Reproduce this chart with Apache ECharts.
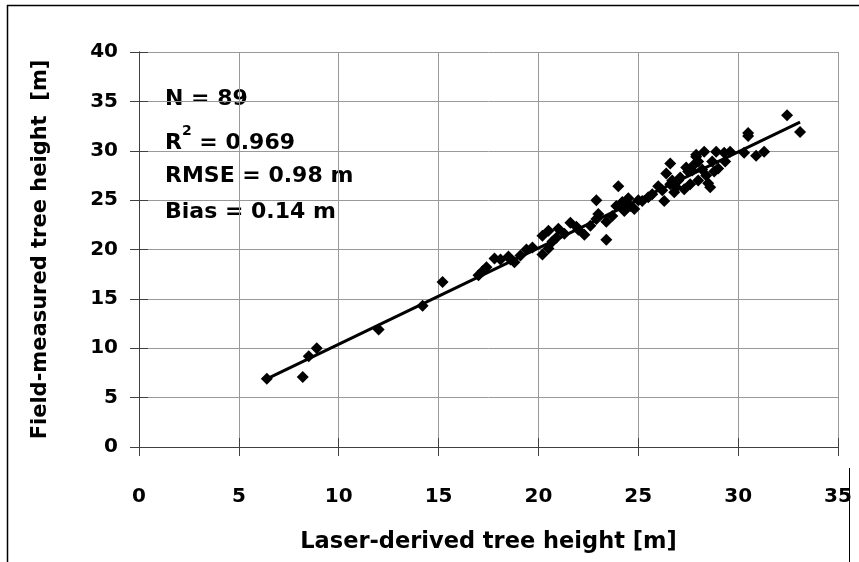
<!DOCTYPE html>
<html>
<head>
<meta charset="utf-8">
<script src="https://cdn.jsdelivr.net/npm/echarts@6/dist/echarts.min.js"></script>
<style>
html,body{margin:0;padding:0;background:#fff;}
#chart{width:859px;height:562px;}
</style>
</head>
<body>
<div id="chart"></div>
<script>
// Laser-derived tree height [m]
const laserHeight = [6.4, 8.2, 8.5, 8.9, 12.0, 14.2, 15.2, 17.0, 17.2, 17.4, 17.8, 18.5, 18.8, 19.1, 19.4, 20.2, 20.2, 20.5, 20.7, 20.5, 21.0, 21.3, 21.6, 22.3, 22.6, 22.9, 22.9, 23.4, 23.4, 23.7, 23.9, 24.0, 24.2, 24.3, 24.6, 24.8, 25.2, 25.7, 26.0, 26.3, 26.4, 26.6, 26.7, 26.9, 27.1, 27.3, 27.5, 27.7, 27.9, 28.0, 28.0, 28.2, 28.3, 28.4, 28.5, 28.6, 28.7, 28.8, 28.9, 29.0, 29.35, 29.3, 29.6, 30.3, 30.5, 30.5, 30.9, 31.3, 32.45, 33.1, 27.9, 27.0, 26.2, 25.5, 21.9, 19.7, 18.1, 24.4, 26.6, 27.4, 25.0, 23.0, 20.9, 22.0, 27.8, 26.8, 24.5, 18.6, 27.6];
// Field-measured tree height [m]
const fieldHeight = [6.9, 7.1, 9.2, 10.0, 11.9, 14.3, 16.7, 17.4, 17.8, 18.2, 19.1, 19.3, 18.7, 19.4, 20.0, 19.5, 21.4, 21.9, 20.8, 20.1, 22.1, 21.6, 22.7, 21.5, 22.4, 25.0, 23.1, 21.0, 22.8, 23.4, 24.4, 26.4, 24.8, 23.9, 24.4, 24.1, 24.9, 25.6, 26.4, 24.9, 27.7, 28.7, 27.0, 26.3, 27.3, 26.1, 27.9, 28.0, 29.4, 27.0, 28.9, 28.1, 29.9, 27.5, 26.7, 26.3, 28.9, 27.9, 29.9, 28.2, 28.9, 29.8, 29.9, 29.8, 31.8, 31.5, 29.5, 29.9, 33.6, 31.9, 29.6, 27.0, 26.0, 25.3, 22.3, 20.2, 19.0, 24.6, 26.6, 28.3, 25.0, 23.6, 21.2, 22.0, 28.6, 25.8, 25.2, 19.0, 26.6];
// Regression line end points
const fitX = [6.4, 33.1];
const fitY = [6.9, 32.9];
// Tick values
const xTicks = [0, 5, 10, 15, 20, 25, 30, 35];
const yTicks = [0, 5, 10, 15, 20, 25, 30, 35, 40];
const statsText = ['N = 89', '0.969', 'RMSE = 0.98 m', 'Bias = 0.14 m'];

const FONT = '"DejaVu Sans", sans-serif';
const points = laserHeight.map((x, i) => [x, fieldHeight[i]]);
const fitLine = fitX.map((x, i) => [x, fitY[i]]);

const chart = echarts.init(document.getElementById('chart'), null, {renderer: 'canvas'});
const axisCommon = {
  type: 'value',
  interval: 5,
  axisLine: {show: true, lineStyle: {color: '#404040', width: 1}},
};
chart.setOption({
  animation: false,
  backgroundColor: '#ffffff',
  grid: {left: 139, right: 21, top: 52, bottom: 115, containLabel: false},
  xAxis: [
    Object.assign({}, axisCommon, {
      min: xTicks[0], max: xTicks[xTicks.length - 1],
      name: 'Laser-derived tree height [m]',
      nameLocation: 'middle', nameGap: 84,
      nameTextStyle: {fontFamily: FONT, fontWeight: 'bold', fontSize: 22.5, color: '#000'},
      axisTick: {show: true, inside: false, length: 9, lineStyle: {color: '#404040'}},
      axisLabel: {fontFamily: FONT, fontWeight: 'bold', fontSize: 20, color: '#000', margin: 40},
      splitLine: {show: true, lineStyle: {color: '#999999', width: 1}}
    }),
    Object.assign({}, axisCommon, {
      min: xTicks[0], max: xTicks[xTicks.length - 1], position: 'bottom',
      axisTick: {show: true, inside: true, length: 9, lineStyle: {color: '#404040'}},
      axisLabel: {show: false}, splitLine: {show: false}
    })
  ],
  yAxis: [
    Object.assign({}, axisCommon, {
      min: yTicks[0], max: yTicks[yTicks.length - 1],
      name: 'Field-measured tree height  [m]',
      nameLocation: 'middle', nameGap: 88,
      nameTextStyle: {fontFamily: FONT, fontWeight: 'bold', fontSize: 21, color: '#000'},
      axisTick: {show: true, inside: false, length: 9, lineStyle: {color: '#404040'}},
      axisLabel: {fontFamily: FONT, fontWeight: 'bold', fontSize: 20, color: '#000', margin: 21},
      splitLine: {show: true, lineStyle: {color: '#999999', width: 1}}
    }),
    Object.assign({}, axisCommon, {
      min: yTicks[0], max: yTicks[yTicks.length - 1], position: 'left',
      axisTick: {show: true, inside: true, length: 9, lineStyle: {color: '#404040'}},
      axisLabel: {show: false}, splitLine: {show: false}
    })
  ],
  series: [
    {
      type: 'scatter', xAxisIndex: 0, yAxisIndex: 0,
      symbol: 'diamond', symbolSize: 12,
      itemStyle: {color: '#000000', opacity: 1},
      data: points, z: 3
    },
    {
      type: 'line', xAxisIndex: 0, yAxisIndex: 0,
      symbol: 'none', lineStyle: {color: '#000000', width: 3},
      data: fitLine, z: 4
    }
  ],
  graphic: [
    {type: 'line', shape: {x1: 7, y1: 5.5, x2: 859, y2: 5.5}, style: {stroke: '#000', lineWidth: 1.5}},
    {type: 'line', shape: {x1: 7.5, y1: 5, x2: 7.5, y2: 562}, style: {stroke: '#000', lineWidth: 1.5}},
    {type: 'line', shape: {x1: 849.5, y1: 468, x2: 849.5, y2: 562}, style: {stroke: '#000', lineWidth: 1}},
    {type: 'text', left: 165, top: 88, style: {text: statsText[0], font: 'bold 22px ' + FONT, fill: '#000'}},
    {type: 'text', left: 165, top: 124, style: {
      text: '{b|R}{s|2}{b| = ' + statsText[1] + '}',
      rich: {
        b: {font: 'bold 22px ' + FONT, fill: '#000', color: '#000', verticalAlign: 'bottom', lineHeight: 30},
        s: {font: 'bold 14px ' + FONT, fill: '#000', color: '#000', verticalAlign: 'top', lineHeight: 30}
      }
    }},
    {type: 'text', left: 165, top: 165, style: {text: statsText[2], font: 'bold 22px ' + FONT, fill: '#000'}},
    {type: 'text', left: 165, top: 201, style: {text: statsText[3], font: 'bold 22px ' + FONT, fill: '#000'}}
  ]
});
</script>
</body>
</html>
